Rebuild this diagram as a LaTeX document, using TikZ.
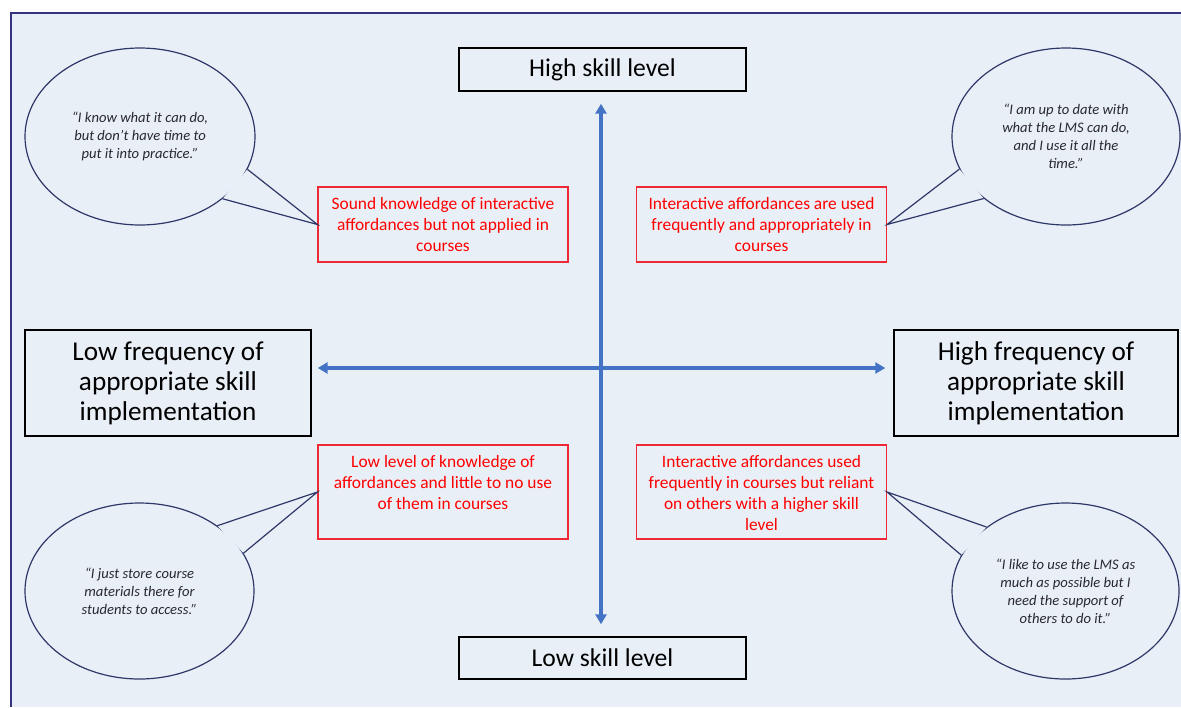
\documentclass[tikz,border=0pt]{standalone}
\usepackage{fontspec}
\setmainfont{Carlito}
\usetikzlibrary{shapes.geometric,arrows.meta}
\definecolor{paneblue}{RGB}{233,239,247}
\definecolor{frameblue}{RGB}{52,52,128}
\definecolor{axisblue}{RGB}{68,114,196}
\definecolor{boxred}{RGB}{238,40,52}
\definecolor{textred}{RGB}{255,0,0}
\definecolor{quoteline}{RGB}{46,56,104}
\definecolor{quotetext}{RGB}{40,40,48}
\newcommand{\quadtext}[2]{\parbox[c][#1][t]{125pt}{\centering\rule{0pt}{11pt}#2}}
\begin{document}
\begin{tikzpicture}[x=0.5pt,y=-0.5pt,
				axisbox/.style={draw=black,line width=0.7pt,inner sep=0pt,align=center},
				quadbox/.style={draw=boxred,line width=0.6pt,inner sep=0pt,text=textred,
					font=\fontsize{8.7}{10.5}\selectfont},
				quote/.style={ellipse,draw=quoteline,line width=0.6pt,fill=paneblue,inner sep=0pt,
					align=center,text=quotetext,font=\fontsize{7.3}{9}\selectfont\itshape},
				tail/.style={draw=quoteline,line width=0.6pt},
				axis/.style={draw=axisblue,line width=1.6pt,
					{Triangle[length=5pt,width=5.5pt]}-{Triangle[length=5pt,width=5.5pt]}}]
\useasboundingbox (0,0) rectangle (1181,707);
\fill[paneblue] (11,13) rectangle (1181,707);
\draw[frameblue,line width=0.8pt] (11,707) -- (11,13) -- (1181,13);

\node[axisbox,minimum width=143.5pt,minimum height=21.5pt,font=\fontsize{12.8}{15}\selectfont]
	(hi) at (602.5,69.5) {High skill level};
\node[axisbox,minimum width=143.5pt,minimum height=21pt,font=\fontsize{12.8}{15}\selectfont]
	(lo) at (602.5,658) {Low skill level};
\node[axisbox,minimum width=143pt,minimum height=53pt,font=\fontsize{13.6}{15}\selectfont]
	(lf) at (168,383) {Low frequency of\\appropriate skill\\implementation};
\node[axisbox,minimum width=142pt,minimum height=53pt,font=\fontsize{13.6}{15}\selectfont]
	(hf) at (1036,383) {High frequency of\\appropriate skill\\implementation};

\coordinate (o) at (601,368);
\draw[axis,shorten <=6pt,shorten >=6pt] (hi.south -| o) -- (lo.north -| o);
\draw[axis,shorten <=3pt,shorten >=4pt] (lf.east |- o) -- (hf.west |- o);

\node[quadbox] (tl) at (443,224.5) {\quadtext{37.5pt}{Sound knowledge of interactive\\affordances but not applied in\\courses}};
\node[quadbox] (tr) at (761.5,224.5) {\quadtext{37.5pt}{Interactive affordances are used\\frequently and appropriately in\\courses}};
\node[quadbox] (bl) at (443,492) {\quadtext{47pt}{Low level of knowledge of\\affordances and little to no use\\of them in courses}};
\node[quadbox] (br) at (761.5,492) {\quadtext{47pt}{Interactive affordances used\\frequently in courses but reliant\\on others with a higher skill\\level}};

\node[quote,minimum width=115pt,minimum height=88.5pt] (qtl) at (140,136.5)
	{“I know what it can do,\\but don’t have time to\\put it into practice.”};
\node[quote,minimum width=114pt,minimum height=88.5pt] (qtr) at (1066,136.5)
	{“I am up to date with\\what the LMS can do,\\and I use it all the\\time.”};
\node[quote,minimum width=114.5pt,minimum height=88pt] (qbl) at (139.5,591)
	{“I just store course\\materials there for\\students to access.”};
\node[quote,minimum width=113.5pt,minimum height=88pt] (qbr) at (1065.5,591)
	{“I like to use the LMS as\\much as possible but I\\need the support of\\others to do it.”};

\fill[paneblue] (qtl.-17) -- (tl.west) -- (qtl.-37) -- cycle;
\draw[tail] (qtl.-17) -- (tl.west) -- (qtl.-37);
\fill[paneblue] (qtr.197) -- (tr.east) -- (qtr.217) -- cycle;
\draw[tail] (qtr.197) -- (tr.east) -- (qtr.217);
\fill[paneblue] (qbl.40) -- (bl.west) -- (qbl.20) -- cycle;
\draw[tail] (qbl.40) -- (bl.west) -- (qbl.20);
\fill[paneblue] (qbr.141) -- (br.east) -- (qbr.161) -- cycle;
\draw[tail] (qbr.141) -- (br.east) -- (qbr.161);
\end{tikzpicture}
\end{document}
